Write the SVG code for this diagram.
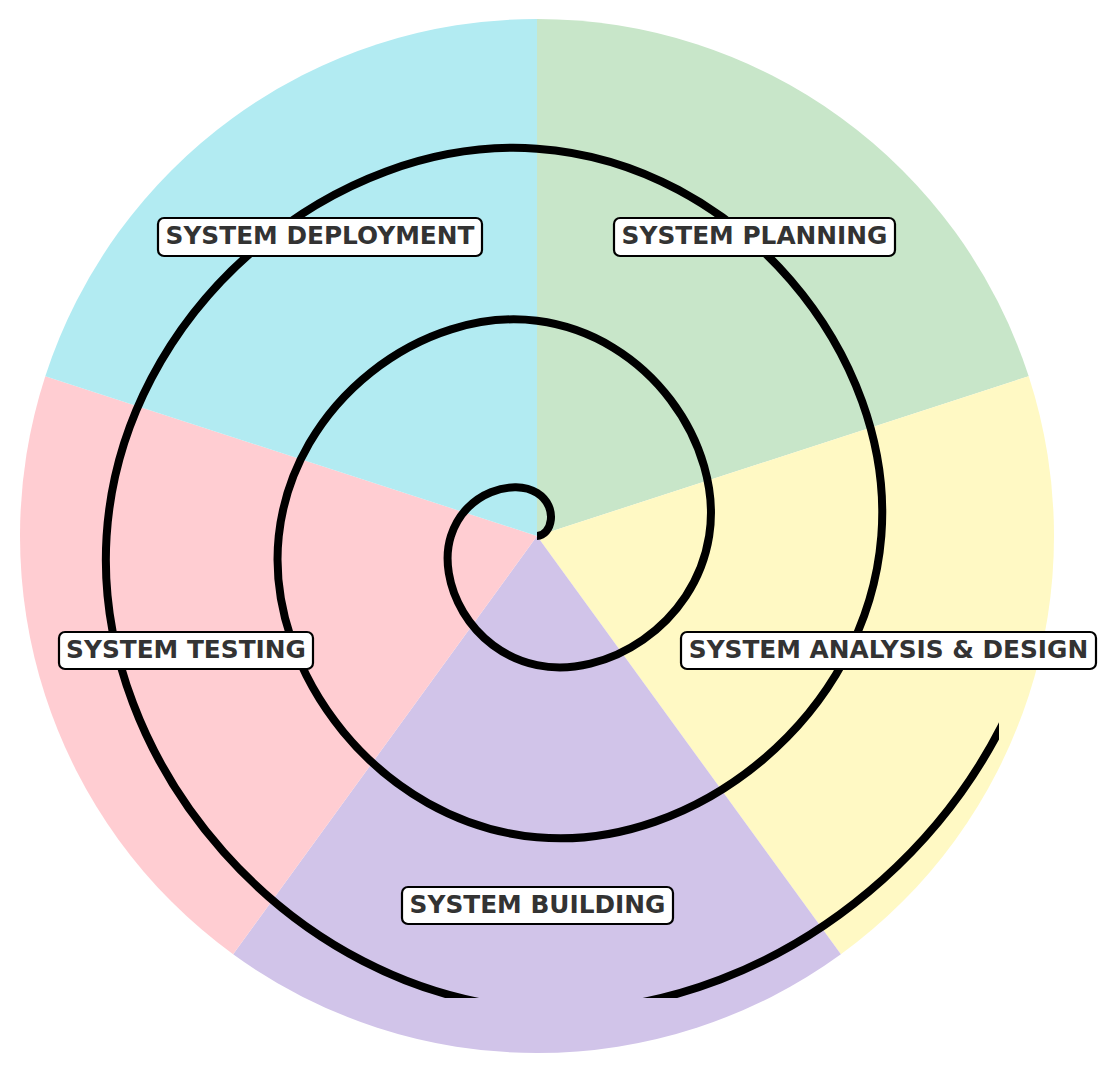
<svg xmlns="http://www.w3.org/2000/svg" width="1110" height="1074" viewBox="0 0 1110 1074">
<style>
.lbl rect{fill:#fff;stroke:#000;stroke-width:2.2}
.lbl text{font-family:"DejaVu Sans",sans-serif;font-weight:bold;font-size:24.8px;fill:#333;text-anchor:middle}
</style>
<defs>
<clipPath id="ax"><rect x="0" y="0" width="999" height="998"/></clipPath>
</defs>
<rect width="1110" height="1074" fill="#fff"/>
<g id="sectors">
<path id="planning-sector" d="M537,536 L537,19 A517,517 0 0 1 1028.70,376.24 Z" fill="#C8E6C9"/>
<path id="analysis-sector" d="M537,536 L1028.70,376.24 A517,517 0 0 1 840.89,954.26 Z" fill="#FFF9C4"/>
<path id="building-sector" d="M537,536 L840.89,954.26 A517,517 0 0 1 233.11,954.26 Z" fill="#D1C4E9"/>
<path id="testing-sector" d="M537,536 L233.11,954.26 A517,517 0 0 1 45.30,376.24 Z" fill="#FFCDD2"/>
<path id="deployment-sector" d="M537,536 L45.30,376.24 A517,517 0 0 1 537,19 Z" fill="#B2EBF2"/>
</g>
<g id="connectors" clip-path="url(#ax)">
<path id="spiral" fill="none" stroke="#000" stroke-width="8" d="M537,536 C551.35,536 559.54,507.31 537,492.96 C514.46,478.61 465.27,490.93 450.92,536 C436.57,581.07 469.39,650.77 537,665.12 C604.61,679.47 694.81,626.15 709.16,536 C723.51,445.86 649.68,335.15 537,320.8 C424.32,306.45 293.11,400.78 278.76,536 C264.41,671.22 379.25,822.93 537,837.28 C694.75,851.63 866.97,716.29 881.32,536 C895.67,355.71 739.83,162.99 537,148.64 C334.17,134.29 120.95,310.64 106.6,536 C92.25,761.36 289.1,995.09 537,1009.44 C784.9,1023.79 1039.13,806.44 1053.48,536"/>
</g>
<g id="label-planning" class="lbl"><rect x="614" y="218" width="281" height="38" rx="6"/><text x="754.5" y="244">SYSTEM PLANNING</text></g>
<g id="label-deployment" class="lbl"><rect x="158" y="218" width="324" height="38" rx="6"/><text x="320" y="244">SYSTEM DEPLOYMENT</text></g>
<g id="label-testing" class="lbl"><rect x="59" y="632" width="254" height="37" rx="6"/><text x="186" y="657.5">SYSTEM TESTING</text></g>
<g id="label-analysis" class="lbl"><rect x="681" y="632" width="415" height="37" rx="6"/><text x="888.5" y="657.5">SYSTEM ANALYSIS &amp; DESIGN</text></g>
<g id="label-building" class="lbl"><rect x="402" y="887" width="271" height="37" rx="6"/><text x="537.5" y="912.5">SYSTEM BUILDING</text></g>
</svg>
